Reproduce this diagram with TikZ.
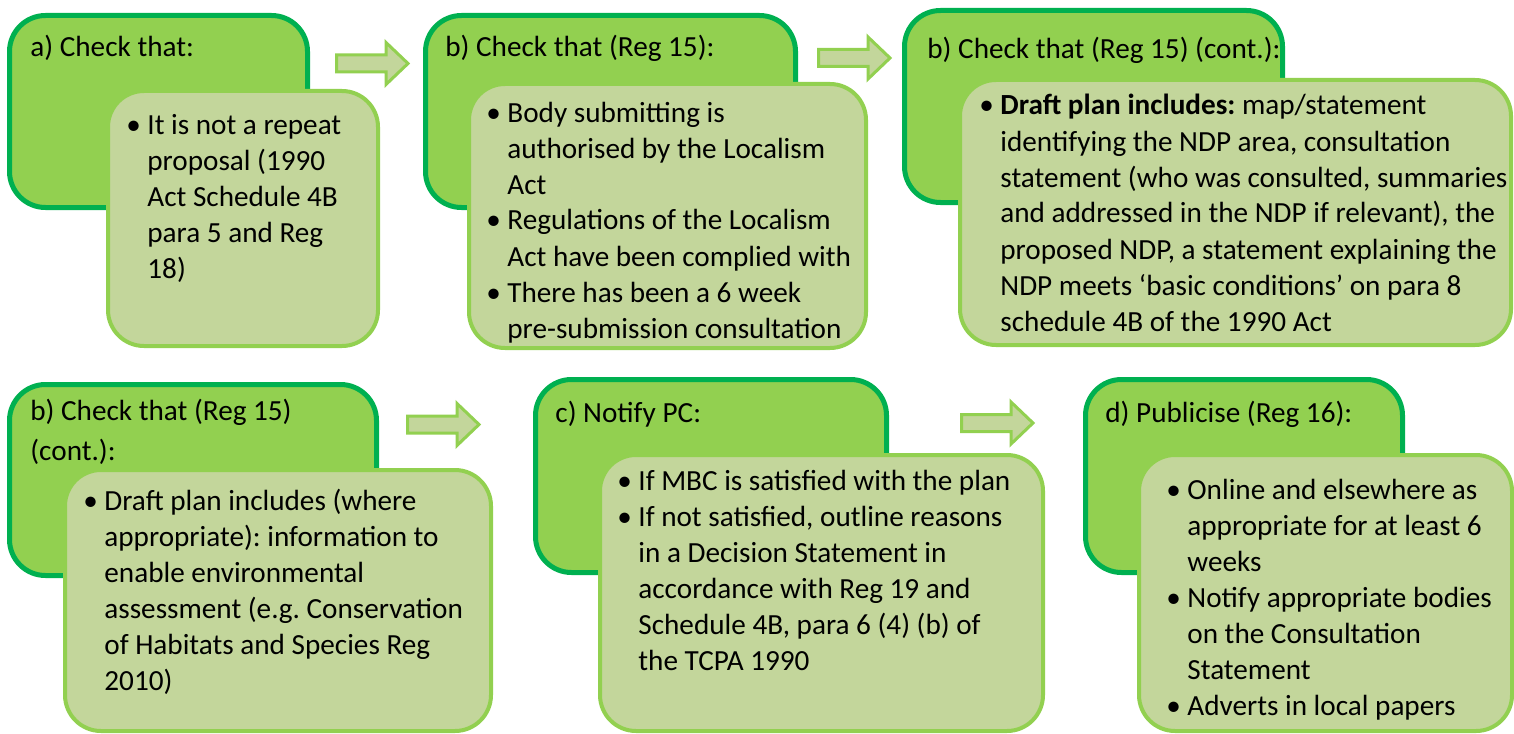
\documentclass[tikz,border=0pt]{standalone}
\usepackage{fontspec}
\setmainfont{Carlito}
\frenchspacing

\definecolor{darkgr}{HTML}{00B050}
\definecolor{midgr}{HTML}{92D050}
\definecolor{palegr}{HTML}{C3D69B}

\newcommand{\bl}{\makebox[10.5pt][l]{\textbullet}}

\tikzset{
  outerbox/.style={draw=darkgr, line width=2.5pt, fill=midgr, rounded corners=18pt,
    anchor=north west, inner sep=0pt, outer sep=0pt},
  innerbox/.style={draw=midgr, line width=2pt, fill=palegr, rounded corners=18pt,
    anchor=north west, inner sep=0pt, outer sep=0pt},
  txt/.style={anchor=base west, inner sep=0pt, yshift=-1pt,
    font=\fontsize{14.6}{18}\selectfont},
  blockarrow/.style={draw=midgr, line width=1.5pt, fill=palegr},
}

\begin{document}
\begin{tikzpicture}[x=0.5pt, y=-0.5pt]
\useasboundingbox (0,0) rectangle (1514,733);

% top row
\node[outerbox, minimum width=149pt, minimum height=96pt] (boxA) at (9.5,15.5) {};
\node[innerbox, minimum width=135pt, minimum height=127.5pt] (listboxA) at (108,91) {};
\node[txt] (headA) at (30,55) {a) Check that:};
\node[txt] (listA) at (126,132) {\begin{tabular}[t]{@{}l@{}l@{}}
\bl & It is not a repeat\\
 & proposal (1990\\
 & Act Schedule 4B\\
 & para 5 and Reg\\
 & 18)
\end{tabular}};

\node[outerbox, minimum width=185pt, minimum height=96pt] (boxB) at (425.5,15.5) {};
\node[innerbox, minimum width=198.5pt, minimum height=132pt] (listboxB) at (469,84) {};
\node[txt] (headB) at (445,55) {b) Check that (Reg 15):};
\node[txt] (listB) at (486,120) {\begin{tabular}[t]{@{}l@{}l@{}}
\bl & Body submitting is\\
 & authorised by the Localism\\
 & Act\\
\bl & Regulations of the Localism\\
 & Act have been complied with\\
\bl & There has been a 6 week\\
 & pre-submission consultation
\end{tabular}};

\node[outerbox, minimum width=189pt, minimum height=96pt] (boxBB) at (904.5,10.5) {};
\node[innerbox, minimum width=275.5pt, minimum height=132.5pt] (listboxBB) at (960,80) {};
\node[txt] (headBB) at (927,57) {b) Check that (Reg 15) (cont.):};
\node[txt] (listBB) at (979,113) {\begin{tabular}[t]{@{}l@{}l@{}}
\bl & \textbf{Draft plan includes:} map/statement\\
 & identifying the NDP area, consultation\\
 & statement (who was consulted, summaries\\
 & and addressed in the NDP if relevant), the\\
 & proposed NDP, a statement explaining the\\
 & NDP meets ‘basic conditions’ on para 8\\
 & schedule 4B of the 1990 Act
\end{tabular}};

% bottom row
\node[outerbox, minimum width=183.5pt, minimum height=95.5pt] (boxBC) at (9.5,384.5) {};
\node[innerbox, minimum width=213pt, minimum height=130.5pt] (listboxBC) at (65,470) {};
\node[txt] (headBC) at (30,418) {\begin{tabular}[t]{@{}l@{}}
b) Check that (Reg 15)\\[2pt]
(cont.):
\end{tabular}};
\node[txt] (listBC) at (83,508) {\begin{tabular}[t]{@{}l@{}l@{}}
\bl & Draft plan includes (where\\
 & appropriate): information to\\
 & enable environmental\\
 & assessment (e.g. Conservation\\
 & of Habitats and Species Reg\\
 & 2010)
\end{tabular}};

\node[outerbox, minimum width=175.5pt, minimum height=96.5pt] (boxC) at (535.5,379.5) {};
\node[innerbox, minimum width=221.5pt, minimum height=138pt] (listboxC) at (600,455) {};
\node[txt] (headC) at (555,420) {c) Notify PC:};
\node[txt] (listC) at (617,488) {\begin{tabular}[t]{@{}l@{}l@{}}
\bl & If MBC is satisfied with the plan\\
\bl & If not satisfied, outline reasons\\
 & in a Decision Statement in\\
 & accordance with Reg 19 and\\
 & Schedule 4B, para 6 (4) (b) of\\
 & the TCPA 1990
\end{tabular}};

\node[outerbox, minimum width=158.5pt, minimum height=96.5pt] (boxD) at (1085.5,379.5) {};
\node[innerbox, minimum width=186.5pt, minimum height=138pt] (listboxD) at (1139,455) {};
\node[txt] (headD) at (1105,420) {d) Publicise (Reg 16):};
\node[txt] (listD) at (1166,497) {\begin{tabular}[t]{@{}l@{}l@{}}
\bl & Online and elsewhere as\\
 & appropriate for at least 6\\
 & weeks\\
\bl & Notify appropriate bodies\\
 & on the Consultation\\
 & Statement\\
\bl & Adverts in local papers
\end{tabular}};

% block arrows between the steps
\foreach \ax/\ay in {335/63.5, 817/58, 406/424.5, 960/423}
  \draw[blockarrow] (\ax+1.5,\ay-8.5) -- ++(49.5,0) -- ++(0,-12.5) -- ++(22,21)
    -- ++(-22,21) -- ++(0,-12.5) -- ++(-49.5,0) -- cycle;
\end{tikzpicture}
\end{document}
